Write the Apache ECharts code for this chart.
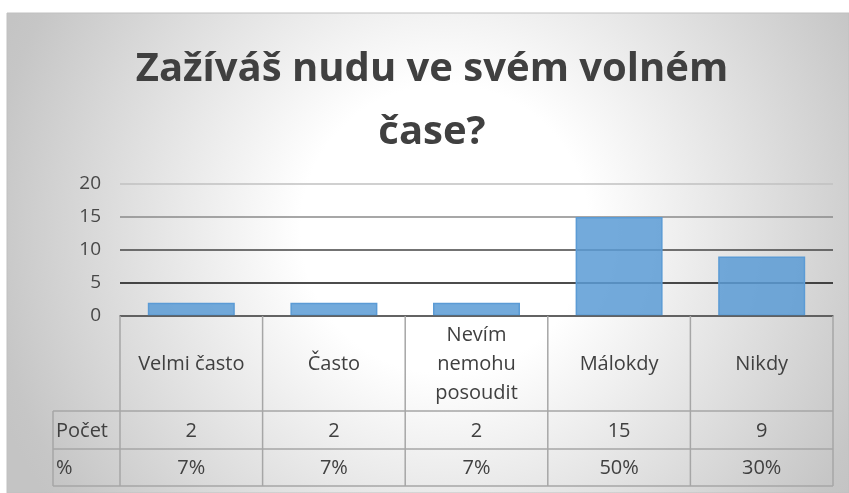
<!DOCTYPE html>
<html>
<head>
<meta charset="utf-8">
<script src="https://cdn.jsdelivr.net/npm/echarts@6/dist/echarts.min.js"></script>
<style>
html,body{margin:0;padding:0;background:#fff;}
#c{width:849px;height:493px;}
</style>
</head>
<body>
<div id="c"></div>
<script>
const titleText = 'Zažíváš nudu ve svém volném\nčase?';
const categories = ['Velmi často', 'Často', 'Nevím\nnemohu\nposoudit', 'Málokdy', 'Nikdy'];
const counts = [2, 2, 2, 15, 9];
const percentLabels = ['7%', '7%', '7%', '50%', '30%'];
const rowHeaders = ['Počet', '%'];
const yTicks = [0, 5, 10, 15, 20];

const chart = echarts.init(document.getElementById('c'), null, {renderer: 'canvas'});
const FONT = '"Open Sans", sans-serif';
const TXT = '#404040';

const option = {
  backgroundColor: '#ffffff',
  animation: false,
  title: {
    text: titleText,
    left: 427,
    top: 33,
    textAlign: 'center',
    textStyle: {fontFamily: FONT, fontWeight: 'bold', fontSize: 40, color: TXT, lineHeight: 63}
  },
  grid: {left: 120, right: 16, top: 184, bottom: 177, containLabel: false},
  xAxis: {
    type: 'category',
    data: categories,
    axisLabel: {show: false},
    axisTick: {show: false},
    axisLine: {show: true, lineStyle: {color: '#595959', width: 1.5}},
    z: 3
  },
  yAxis: {
    type: 'value',
    min: yTicks[0],
    max: yTicks[yTicks.length - 1],
    interval: 5,
    axisLine: {show: false},
    axisTick: {show: false},
    axisLabel: {fontFamily: FONT, fontSize: 19, color: '#484848', margin: 19},
    splitLine: {show: true, lineStyle: {color: ['#595959', '#111111', '#444444', '#8a8a8a', '#c0c0c0'], width: 1.5}}
  },
  series: [{
    type: 'bar',
    data: counts,
    barCategoryGap: '39%',
    itemStyle: {color: 'rgba(91,155,213,0.85)', borderColor: '#5b9bd5', borderWidth: 1.5}
  }],
  graphic: []
};
chart.setOption(option);

const top0 = chart.convertToPixel({gridIndex: 0}, [0, 0])[1];
const c0 = chart.convertToPixel({xAxisIndex: 0}, 0);
const c1 = chart.convertToPixel({xAxisIndex: 0}, 1);
const band = c1 - c0;
const xLeft = c0 - band / 2;
const xRight = xLeft + band * categories.length;
const rowY = [top0, 411, 449, 486];
const headLeft = 53;
const lineCol = '#a6a6a6';
const g = [];

g.push({
  type: 'rect', z: -10, silent: true,
  shape: {x: 7, y: 13, width: 842, height: 480},
  style: {
    fill: {type: 'radial', x: 0.52, y: 0.45, r: 1.0,
      colorStops: [{offset: 0, color: '#ffffff'}, {offset: 0.3, color: '#ffffff'}, {offset: 0.95, color: '#c6c6c6'}, {offset: 1, color: '#c4c4c4'}]},
    stroke: '#c0c0c0', lineWidth: 1
  }
});

function line(x1, y1, x2, y2) {
  g.push({type: 'line', z: 5, silent: true, shape: {x1, y1, x2, y2}, style: {stroke: lineCol, lineWidth: 1.5}});
}
line(headLeft, rowY[1], xRight, rowY[1]);
line(headLeft, rowY[2], xRight, rowY[2]);
line(headLeft, rowY[3], xRight, rowY[3]);
for (let i = 0; i <= categories.length; i++) {
  const x = xLeft + band * i;
  line(x, rowY[0], x, rowY[3]);
}
line(headLeft, rowY[1], headLeft, rowY[3]);

function txt(text, x, y, align) {
  g.push({type: 'text', z: 6, silent: true, x, y,
    style: {text, fontFamily: FONT, fontSize: 20, fill: TXT, align: align || 'center', verticalAlign: 'middle', lineHeight: 29}});
}
categories.forEach((c, i) => {
  const cx = chart.convertToPixel({xAxisIndex: 0}, i);
  txt(c, cx, (rowY[0] + rowY[1]) / 2 + 1);
  txt(String(counts[i]), cx, (rowY[1] + rowY[2]) / 2 + 1);
  txt(percentLabels[i], cx, (rowY[2] + rowY[3]) / 2 + 1);
});
txt(rowHeaders[0], headLeft + 3, (rowY[1] + rowY[2]) / 2 + 1, 'left');
txt(rowHeaders[1], headLeft + 3, (rowY[2] + rowY[3]) / 2 + 1, 'left');

chart.setOption({graphic: g});
</script>
</body>
</html>
